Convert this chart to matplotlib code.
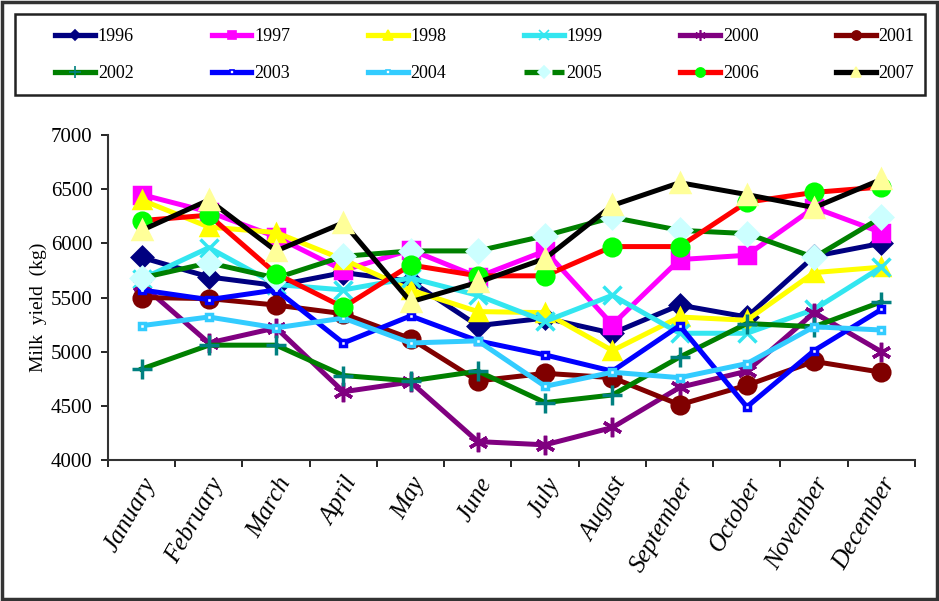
import numpy as np
import matplotlib
matplotlib.use("Agg")
import matplotlib.pyplot as plt
from matplotlib.lines import Line2D
from matplotlib.patches import Rectangle
from matplotlib.ticker import FixedLocator

plt.rcParams['font.family'] = ['Liberation Serif', 'DejaVu Serif']

months = ["January", "February", "March", "April", "May", "June", "July",
          "August", "September", "October", "November", "December"]
years = ["1996", "1997", "1998", "1999", "2000", "2001",
         "2002", "2003", "2004", "2005", "2006", "2007"]

y1996 = [5870, 5690, 5610, 5730, 5650, 5240, 5310, 5170, 5430, 5320, 5880, 6000]
y1997 = [6450, 6290, 6060, 5750, 5940, 5690, 5930, 5250, 5850, 5890, 6330, 6100]
y1998 = [6400, 6150, 6100, 5850, 5570, 5370, 5360, 5010, 5320, 5290, 5730, 5780]
y1999 = [5670, 5960, 5620, 5570, 5680, 5520, 5280, 5520, 5170, 5170, 5390, 5780]
y2000 = [5620, 5080, 5220, 4630, 4720, 4170, 4140, 4300, 4670, 4820, 5360, 5000]
y2001 = [5500, 5490, 5430, 5350, 5120, 4730, 4800, 4760, 4510, 4690, 4910, 4810]
y2002 = [4840, 5060, 5060, 4780, 4730, 4820, 4530, 4600, 4950, 5260, 5230, 5460]
y2003 = [5570, 5480, 5570, 5080, 5330, 5100, 4970, 4820, 5240, 4490, 5010, 5390]
y2004 = [5240, 5320, 5220, 5310, 5080, 5100, 4680, 4810, 4760, 4890, 5230, 5200]
y2005 = [5680, 5820, 5680, 5880, 5930, 5930, 6070, 6240, 6120, 6090, 5870, 6240]
y2006 = [6210, 6260, 5720, 5410, 5800, 5700, 5700, 5970, 5970, 6380, 6470, 6520]
y2007 = [6120, 6400, 5930, 6190, 5460, 5640, 5860, 6350, 6560, 6450, 6330, 6590]

series = [y1996, y1997, y1998, y1999, y2000, y2001,
          y2002, y2003, y2004, y2005, y2006, y2007]

# line colour, marker, marker face, marker edge, marker size
styles = [
    ("#000080", "D", "#000080", "#000080", 10),
    ("#FF00FF", "s", "#FF00FF", "#FF00FF", 11),
    ("#FFFF00", "^", "#FFFF00", "#FFFF00", 12),
    ("#33E6F0", "x", "#33E6F0", "#33E6F0", 13),
    ("#800080", (6, 2, 0), "#800080", "#800080", 14),
    ("#800000", "o", "#800000", "#800000", 12),
    ("#008000", "+", "#008080", "#008080", 15),
    ("#0000FF", "s", "white", "#0000FF", 5),
    ("#33CCFF", "s", "white", "#33CCFF", 4),
    ("#008000", "D", "#CCFFFF", "#CCFFFF", 11),
    ("#FF0000", "o", "#00FF00", "#00FF00", 12),
    ("#000000", "^", "#FFFF99", "#FFFF99", 13),
]

fig = plt.figure(figsize=(9.39, 6.01), dpi=100)
ax = fig.add_axes([108 / 939, 1 - 460 / 601, 807 / 939, 325 / 601])

x = np.arange(len(months))
for vals, (lc, mk, mf, me, ms) in zip(series, styles):
    ax.plot(x, vals, color=lc, linewidth=3.6, marker=mk, markersize=ms,
            markerfacecolor=mf, markeredgecolor=me, markeredgewidth=2.5)

ax.set_xlim(-0.5, 11.5)
ax.set_ylim(4000, 7000)
ax.set_yticks(range(4000, 7001, 500))
ax.tick_params(axis='y', labelsize=15, direction='out', length=5, width=1.2, pad=6)
ax.xaxis.set_major_locator(FixedLocator(np.arange(-0.5, 12, 1)))
ax.xaxis.set_minor_locator(FixedLocator(x))
ax.set_xticklabels([])
ax.set_xticklabels(months, minor=True, rotation=60, ha='right',
                   rotation_mode='anchor', fontstyle='italic', fontsize=18)
ax.tick_params(axis='x', which='major', direction='out', length=5, width=1.2)
ax.tick_params(axis='x', which='minor', length=0, pad=10)
for side in ['top', 'right']:
    ax.spines[side].set_visible(False)
for side in ['left', 'bottom']:
    ax.spines[side].set_linewidth(1.5)
    ax.spines[side].set_color("#333333")
ax.set_ylabel("Milk  yield  (kg)", fontsize=14)
ax.yaxis.set_label_coords(-0.076, 0.47)

# legend box drawn separately, entries filled row by row like the original
fig.patches.append(Rectangle((15 / 939, 1 - 95 / 601), 910 / 939, 81 / 601,
                             fill=False, edgecolor="#222222", linewidth=1.8,
                             transform=fig.transFigure))
handles = []
for i, (lc, mk, mf, me, ms) in enumerate(styles):
    ls = '--' if years[i] == "2005" else '-'
    handles.append(Line2D([0], [0], color=lc, linewidth=3.8, linestyle=ls,
                          marker=mk, markersize=ms * 0.55, markerfacecolor=mf,
                          markeredgecolor=me, markeredgewidth=1.2))
order = [0, 6, 1, 7, 2, 8, 3, 9, 4, 10, 5, 11]
leg = fig.legend([handles[i] for i in order], [years[i] for i in order],
                 loc='center',
                 bbox_to_anchor=(50 / 939, 1 - 92 / 601, 870 / 939, 74 / 601),
                 mode='expand', ncol=6, handlelength=2.2, handletextpad=0.15,
                 fontsize=13, frameon=False, borderaxespad=0,
                 labelspacing=1.1, borderpad=0.3)

fig.patches.append(Rectangle((0.002, 0.003), 0.996, 0.994, fill=False,
                             edgecolor="#333333", linewidth=2.5,
                             transform=fig.transFigure))

fig.savefig("out.png", dpi=100)
